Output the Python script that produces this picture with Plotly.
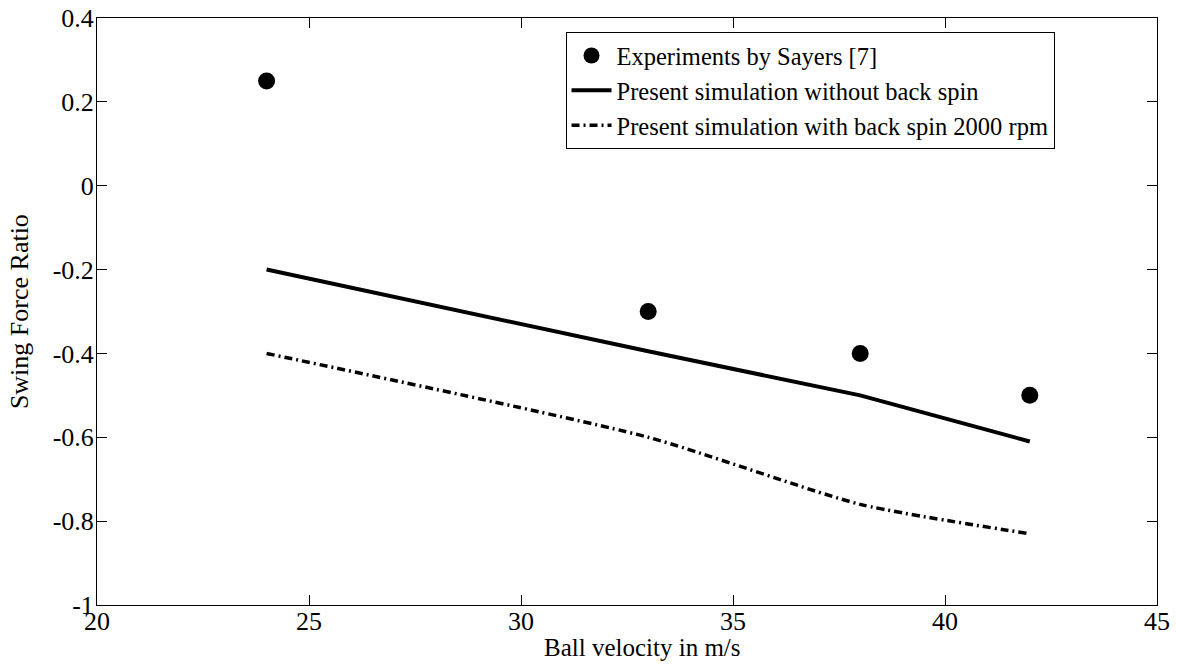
import plotly.graph_objects as go

exp_x = [24, 33, 38, 42]
exp_y = [0.25, -0.30, -0.40, -0.50]

sim_x = [24, 33, 38, 42]
sim_no_spin = [-0.20, -0.395, -0.50, -0.61]
sim_spin = [-0.40, -0.60, -0.76, -0.83]

x_ticks = [20, 25, 30, 35, 40, 45]
y_ticks = [0.4, 0.2, 0, -0.2, -0.4, -0.6, -0.8, -1]
y_tick_text = ["0.4", "0.2", "0", "-0.2", "-0.4", "-0.6", "-0.8", "-1"]

FONT = "Liberation Serif"

fig = go.Figure()
fig.add_trace(go.Scatter(
    x=exp_x, y=exp_y, mode="markers",
    marker=dict(color="black", size=17, symbol="circle"),
    name="Experiments by Sayers [7]"))
fig.add_trace(go.Scatter(
    x=sim_x, y=sim_no_spin, mode="lines",
    line=dict(color="black", width=4),
    name="Present simulation without back spin"))
fig.add_trace(go.Scatter(
    x=sim_x, y=sim_spin, mode="lines",
    line=dict(color="black", width=3.5, dash="8px,4px,2px,4px", shape="spline", smoothing=0.6),
    name="Present simulation with back spin 2000 rpm"))

axis_common = dict(
    showgrid=False, zeroline=False, showline=True, linecolor="black", linewidth=1,
    mirror="allticks", ticks="inside", ticklen=10, tickcolor="black", tickwidth=1,
    tickfont=dict(family=FONT, size=26, color="black"), automargin=False,
)

fig.update_xaxes(range=[20, 45], tickvals=x_ticks, ticktext=[str(v) for v in x_ticks],
                 ticklabelstandoff=-7, **axis_common)
fig.update_yaxes(range=[-1, 0.4], tickvals=y_ticks, ticktext=y_tick_text,
                 ticklabelstandoff=-3, **axis_common)

fig.update_layout(
    width=1177, height=664,
    margin=dict(l=97, r=20, t=18, b=59),
    plot_bgcolor="white", paper_bgcolor="white",
    font=dict(family=FONT, color="black"),
    legend=dict(x=0.442, y=0.976, xanchor="left", yanchor="top",
                bgcolor="white", bordercolor="black", borderwidth=1,
                font=dict(family=FONT, size=24.5, color="black"),
                itemwidth=40, tracegroupgap=0),
    showlegend=True,
    annotations=[
        dict(text="Ball velocity in m/s", xref="paper", yref="paper",
             x=0.515, y=-0.0716, xanchor="center", yanchor="middle", showarrow=False,
             font=dict(family=FONT, size=25, color="black")),
        dict(text="Swing Force Ratio", xref="paper", yref="paper",
             x=-0.073, y=0.5, xanchor="center", yanchor="middle", showarrow=False,
             textangle=-90, font=dict(family=FONT, size=26, color="black")),
    ],
)

fig.write_html("out.html")
